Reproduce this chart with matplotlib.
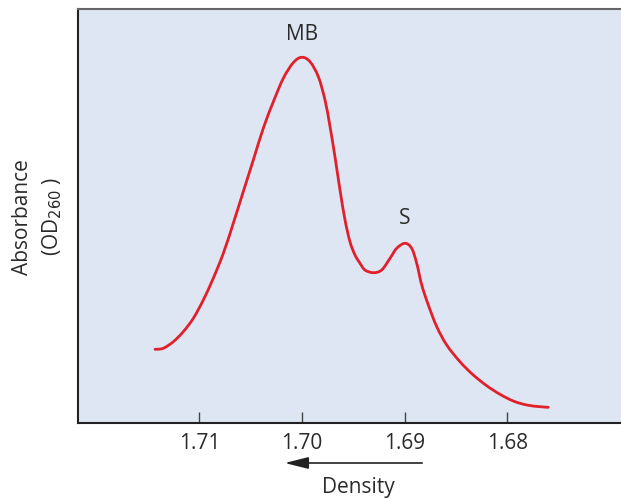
import matplotlib
matplotlib.use("Agg")
import matplotlib.pyplot as plt
from matplotlib.path import Path
from matplotlib.patches import PathPatch, FancyArrowPatch

plt.rcParams['font.family'] = ['Open Sans', 'DejaVu Sans']

density = [1.71431, 1.71351, 1.71253, 1.71156, 1.71058, 1.70961, 1.70864, 1.70766,
           1.70669, 1.70572, 1.70474, 1.70377, 1.70279, 1.70182, 1.70085, 1.70003,
           1.69922, 1.69841, 1.69776, 1.69727, 1.69679, 1.69630, 1.69581, 1.69533,
           1.69484, 1.69435, 1.69387, 1.69306, 1.69224, 1.69143, 1.69078, 1.68997,
           1.68932, 1.68883, 1.68834, 1.68770, 1.68688, 1.68591, 1.68462, 1.68332,
           1.68202, 1.68072, 1.67943, 1.67812, 1.67683, 1.67602]
absorbance = [0.737, 0.747, 0.813, 0.913, 1.047, 1.230, 1.447, 1.697,
              1.997, 2.313, 2.630, 2.947, 3.213, 3.447, 3.603, 3.657,
              3.613, 3.463, 3.230, 2.963, 2.663, 2.330, 2.030, 1.813,
              1.680, 1.597, 1.530, 1.503, 1.530, 1.647, 1.747, 1.797,
              1.747, 1.597, 1.380, 1.180, 0.963, 0.780, 0.613, 0.480,
              0.373, 0.287, 0.220, 0.180, 0.163, 0.157]
xticks = [1.71, 1.70, 1.69, 1.68]
xtick_labels = ["1.71", "1.70", "1.69", "1.68"]
peak_labels = ["MB", "S"]
peak_pos = [(1.700, 3.88), (1.690, 2.04)]

fig = plt.figure(figsize=(6.21, 5.0), dpi=100)
ax = fig.add_axes([78/621, 77/500, 543/621, 414/500])
ax.set_facecolor('#dfe6f3')

# smooth curve through the read points (Catmull-Rom -> cubic Bezier path)
pts = list(zip(density, absorbance))
verts = [pts[0]]
codes = [Path.MOVETO]
n = len(pts)
for i in range(n - 1):
    p0 = pts[i - 1] if i > 0 else pts[i]
    p1 = pts[i]
    p2 = pts[i + 1]
    p3 = pts[i + 2] if i + 2 < n else pts[i + 1]
    c1 = (p1[0] + (p2[0] - p0[0]) / 6, p1[1] + (p2[1] - p0[1]) / 6)
    c2 = (p2[0] - (p3[0] - p1[0]) / 6, p2[1] - (p3[1] - p1[1]) / 6)
    verts += [c1, c2, p2]
    codes += [Path.CURVE4] * 3
ax.add_patch(PathPatch(Path(verts, codes), facecolor='none', edgecolor='#e0202a',
                       lw=2.0, capstyle='round', joinstyle='round'))

ax.set_xlim(1.72181, 1.66894)
ax.set_ylim(0, 4.14)
ax.set_xticks(xticks)
ax.set_xticklabels(xtick_labels)
ax.set_yticks([])
ax.tick_params(axis='x', direction='in', length=8, width=1, color='#444444',
               labelsize=15, labelcolor='#2a2a2a', pad=7)

for s in ['left', 'bottom']:
    ax.spines[s].set_color('#222222')
    ax.spines[s].set_linewidth(1.5)
ax.spines['top'].set_color('#666666')
ax.spines['top'].set_linewidth(1.5)
ax.spines['right'].set_visible(False)

for lab, (x, y) in zip(peak_labels, peak_pos):
    ax.text(x, y, lab, ha='center', va='center', fontsize=15, color='#2a2a2a')

fig.text(23/621, 1 - 217/500, "Absorbance", rotation=90, ha='center', va='center',
         fontsize=15, color='#2a2a2a')
fig.text(52/621, 1 - 216/500, "(OD$_{260}$ )", rotation=90, ha='center', va='center',
         fontsize=15, color='#2a2a2a')

fig.text(358/621, 1 - 488/500, "Density", ha='center', va='center',
         fontsize=15, color='#2a2a2a')
fig.patches.append(FancyArrowPatch(
    (425/621, 1 - 463/500), (282/621, 1 - 463/500), transform=fig.transFigure,
    arrowstyle='-|>,head_length=1.2,head_width=0.3', mutation_scale=12,
    color='#222222', lw=1.2))

fig.savefig('out.png', dpi=100)
